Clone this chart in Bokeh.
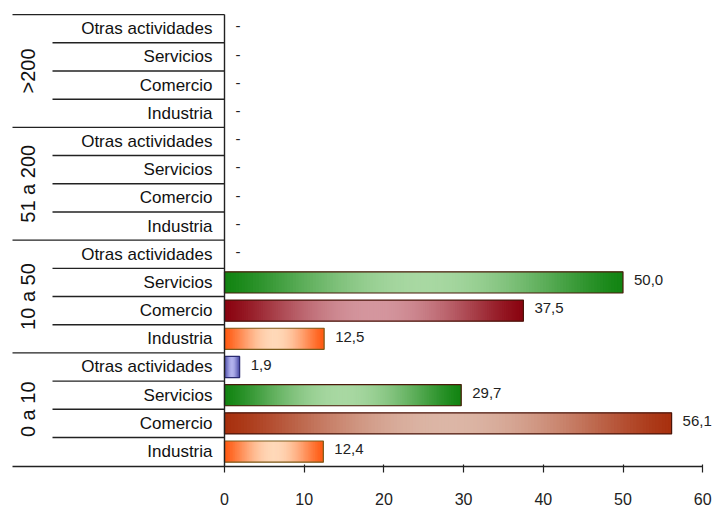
import math
from bokeh.plotting import figure
from bokeh.models import ColumnDataSource, Range1d, FixedTicker
from bokeh.core.properties import value
from bokeh.embed import file_html
from bokeh.resources import INLINE

# ---------------- data ----------------
groups = ["0 a 10", "10 a 50", "51 a 200", ">200"]
categories = ["Industria", "Comercio", "Servicios", "Otras actividades"]
vals_0a10 = [12.4, 56.1, 29.7, 1.9]
vals_10a50 = [12.5, 37.5, 50.0, None]
vals_51a200 = [None, None, None, None]
vals_gt200 = [None, None, None, None]
x_ticks = [0, 10, 20, 30, 40, 50, 60]

group_values = [vals_0a10, vals_10a50, vals_51a200, vals_gt200]

# ---------------- styles ----------------
bar_colors = {
    ("0 a 10", "Industria"): ("#ff5a12", "#ffd8b8"),
    ("0 a 10", "Comercio"): ("#a8300e", "#dcb6a6"),
    ("0 a 10", "Servicios"): ("#128412", "#a8d8a2"),
    ("0 a 10", "Otras actividades"): ("#3a3aa0", "#aaaaea"),
    ("10 a 50", "Industria"): ("#ff5a12", "#ffd8b8"),
    ("10 a 50", "Comercio"): ("#8a0410", "#d4969e"),
    ("10 a 50", "Servicios"): ("#128412", "#a8d8a2"),
    ("10 a 50", "Otras actividades"): ("#3a3aa0", "#aaaaea"),
}
outline_colors = {"Industria": "#7a5a1a", "Comercio": "#4a140a",
                  "Servicios": "#4a1a0a", "Otras actividades": "#2a2a70"}
FONT = "Liberation Sans"
N_SLICES = 140
BAR_H = 0.75

def hex2rgb(h):
    h = h.lstrip("#")
    return tuple(int(h[i:i + 2], 16) for i in (0, 2, 4))

def mix(c1, c2, w):
    a, b = hex2rgb(c1), hex2rgb(c2)
    return "#%02x%02x%02x" % tuple(int(round(a[k] + (b[k] - a[k]) * w)) for k in range(3))

def fmt(v):
    return "-" if v is None else f"{v:.1f}".replace(".", ",")

# ---------------- figure ----------------
PX_PER_X = 7.97
PX_PER_Y = 28.25
W, H = 715, 507
BOTTOM = 40
x0 = -224 / PX_PER_X
y0 = -0.03
p = figure(width=W, height=H, output_backend="svg", toolbar_location=None,
           x_range=Range1d(x0, x0 + W / PX_PER_X),
           y_range=Range1d(y0, y0 + (H - BOTTOM) / PX_PER_Y),
           min_border_left=0, min_border_right=0, min_border_top=0,
           min_border_bottom=BOTTOM, y_axis_location=None)
p.background_fill_color = "white"
p.border_fill_color = "white"
p.outline_line_color = None
p.grid.visible = False

x_group_left = (12 - 224) / PX_PER_X
x_cat_left = (52 - 224) / PX_PER_X
x_group_label = (27 - 224) / PX_PER_X
x_cat_label = (212 - 224) / PX_PER_X

# gradient slices (overlapping so no seams show)
sl = dict(y=[], left=[], right=[], color=[])
outl = dict(y=[], left=[], right=[], color=[])
lab = dict(x=[], y=[], text=[])
cat_lab = dict(x=[], y=[], text=[])
for gi, g in enumerate(groups):
    vals = group_values[gi]
    for ci, c in enumerate(categories):
        y = gi * len(categories) + ci + 0.5
        v = vals[ci]
        cat_lab["x"].append(x_cat_label)
        cat_lab["y"].append(y)
        cat_lab["text"].append(c)
        lab["x"].append(0 if v is None else v)
        lab["y"].append(y + 0.08)
        lab["text"].append(fmt(v))
        if v is None:
            continue
        dark, light = bar_colors[(g, c)]
        for i in range(N_SLICES):
            t = (i + 0.5) / N_SLICES
            w = math.sin(math.pi * t) ** 1.3
            sl["y"].append(y)
            sl["left"].append(v * i / N_SLICES)
            sl["right"].append(v * min(i + 2, N_SLICES) / N_SLICES)
            sl["color"].append(mix(dark, light, w))
        outl["y"].append(y)
        outl["left"].append(0)
        outl["right"].append(v)
        outl["color"].append(outline_colors[c])

p.hbar(y="y", left="left", right="right", height=BAR_H, fill_color="color",
       line_color=None, source=ColumnDataSource(sl))
p.hbar(y="y", left="left", right="right", height=BAR_H, fill_color=None,
       line_color="color", line_width=1.2, source=ColumnDataSource(outl))

# value labels
p.text(x="x", y="y", text="text", source=ColumnDataSource(lab), x_offset=11,
       text_font=value(FONT), text_font_size="15px", text_color="#222222",
       text_align="left", text_baseline="middle")

# category labels
p.text(x="x", y="y", text="text", source=ColumnDataSource(cat_lab),
       text_font=value(FONT), text_font_size="17px", text_color="#111111",
       text_align="right", text_baseline="middle")

# group labels (rotated)
ncat = len(categories)
p.text(x=[x_group_label] * len(groups),
       y=[gi * ncat + ncat / 2 for gi in range(len(groups))],
       text=groups, angle=math.pi / 2,
       text_font=value(FONT), text_font_size="20px", text_color="#111111",
       text_align="center", text_baseline="middle")

# separator lines of the category table
nrows = len(groups) * ncat
full_y = [gi * ncat for gi in range(1, len(groups) + 1)]
sub_y = [r for r in range(1, nrows) if r % ncat != 0]
p.segment(x0=[x_group_left] * len(full_y), y0=full_y, x1=[0] * len(full_y), y1=full_y,
          line_color="#222222", line_width=1.4)
p.segment(x0=[x_cat_left] * len(sub_y), y0=sub_y, x1=[0] * len(sub_y), y1=sub_y,
          line_color="#222222", line_width=1.4)
# vertical axis line
p.segment(x0=[0], y0=[0], x1=[0], y1=[nrows], line_color="#222222", line_width=1.4)

# x axis
ax = p.xaxis[0]
ax.ticker = FixedTicker(ticks=x_ticks)
ax.bounds = (x_group_left, x_ticks[-1])
ax.axis_line_color = "#222222"
ax.axis_line_width = 1.4
ax.major_tick_line_color = "#222222"
ax.major_tick_line_width = 1.2
ax.major_tick_in = 2
ax.major_tick_out = 6
ax.minor_tick_line_color = None
ax.major_label_standoff = 20
ax.major_label_text_font = FONT
ax.major_label_text_font_size = "16px"
ax.major_label_text_color = "#222222"

open("out.html", "w").write(file_html(p, INLINE))
